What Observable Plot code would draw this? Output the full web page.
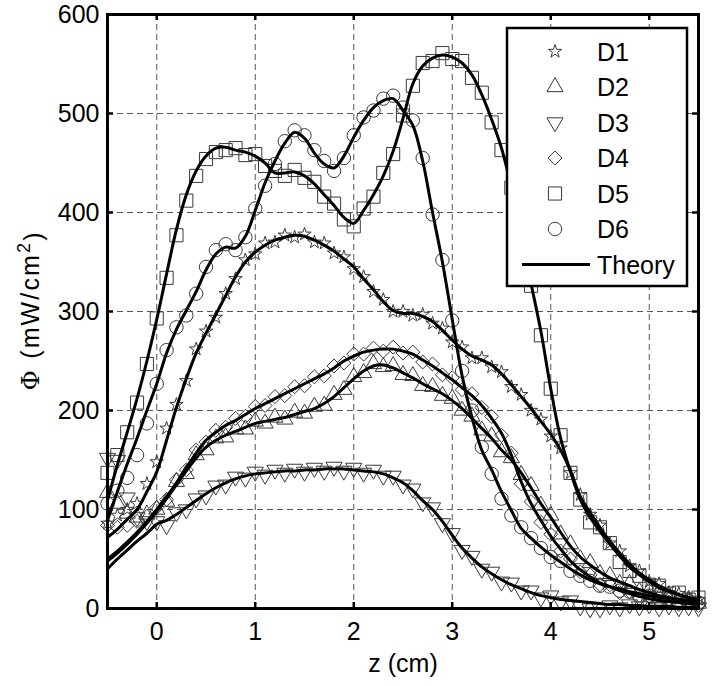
<!DOCTYPE html>
<html>
<head>
<meta charset="utf-8">
<script src="https://cdn.jsdelivr.net/npm/d3@7"></script>
<script src="https://cdn.jsdelivr.net/npm/@observablehq/plot@0.6"></script>
<style>
  html, body { margin: 0; padding: 0; background: #fff; }
  #wrap { position: relative; width: 714px; height: 686px; font-family: "Liberation Sans", Arial, sans-serif; }
  #legend { position: absolute; left: 0; top: 0; overflow: visible; }
</style>
</head>
<body>
<div id="wrap"></div>
<script>
// ---------------- data ----------------
const z = [-0.5,-0.4,-0.3,-0.2,-0.1,0.0,0.1,0.2,0.3,0.4,
  0.5,0.6,0.7,0.8,0.9,1.0,1.1,1.2,1.3,1.4,
  1.5,1.6,1.7,1.8,1.9,2.0,2.1,2.2,2.3,2.4,
  2.5,2.6,2.7,2.8,2.9,3.0,3.1,3.2,3.3,3.4,
  3.5,3.6,3.7,3.8,3.9,4.0,4.1,4.2,4.3,4.4,
  4.5,4.6,4.7,4.8,4.9,5.0,5.1,5.2,5.3,5.4,5.5];

const seriesNames = ["D1","D2","D3","D4","D5","D6"];
const theoryName = "Theory";

// theory curves (mW/cm^2)
const d1Theory = [72,80,90,100,118,138,170,203,232,258,
  278,297,316,335,350,360,367,372,375,377,
  376,372,367,361,353,345,333,322,310,301,
  298,298,295,290,281,271,262,255,251,246,
  237,226,214,202,189,176,160,139,113,97,
  82,68,56,45,36,29,23,18,14,11,8];
const d2Theory = [48,56,65,75,86,98,111,125,139,152,
  163,170,175,179,183,187,189,191,193,196,
  199,202,207,214,223,232,240,245,246,243,
  238,233,227,222,217,210,202,192,182,172,
  160,150,137,122,106,92,77,63,52,44,
  37,31,27,23,19,16,13,11,9,7,6];
const d3Theory = [40,50,59,68,76,85,89,95,102,109,
  116,122,127,131,134,136,137,138,139,139,
  140,140,141,141,141,140,139,138,136,132,
  127,119,109,100,88,74,61,51,42,35,
  29,24,20,16,13,11,9,8,7,6,
  5,4,4,3,3,2,2,2,1,1,1];
const d4Theory = [50,58,67,77,88,100,113,127,142,157,
  170,178,185,190,196,202,207,212,217,222,
  227,232,237,243,250,255,259,261,262,262,
  260,257,251,245,238,231,223,215,205,192,
  177,155,128,106,89,73,60,48,39,32,
  26,22,18,15,12,10,8,7,6,5,4];
const d5Theory = [109,145,178,212,250,292,338,383,418,442,
  457,465,466,463,461,457,450,440,440,441,
  437,429,418,407,395,389,402,418,437,462,
  495,530,548,556,559,557,551,539,519,494,
  465,425,375,328,280,222,172,138,110,92,
  78,65,53,42,34,27,21,17,14,11,9];
const d6Theory = [89,118,146,172,200,227,258,282,301,320,
  342,358,365,364,376,402,430,452,470,481,
  475,460,449,445,457,476,493,506,513,515,
  503,488,452,400,350,292,235,193,160,140,
  118,99,81,71,62,54,47,40,34,29,
  25,22,20,17,15,13,11,10,9,8,7];

// measured points
const d1Meas = [86,94,100,106,126,148,182,206,230,262,
  280,294,318,333,352,358,369,370,377,375,
  378,370,369,359,355,343,335,320,312,300,
  300,296,297,288,283,269,264,253,253,244,
  239,224,216,200,191,174,162,137,115,95,
  84,66,58,43,38,27,25,16,15,10,9];
const d2Meas = [117,106,96,92,95,100,108,128,136,155,
  160,172,173,181,181,189,187,193,191,198,
  197,204,205,216,221,234,238,247,244,245,
  236,235,225,224,215,212,200,194,180,174,
  158,152,135,124,104,94,75,65,50,46,
  35,33,25,25,17,18,11,13,7,9,5];
const d3Meas = [152,150,112,92,88,88,84,97,100,111,
  114,124,125,133,132,138,135,140,137,141,
  138,142,139,143,139,142,137,140,134,134,
  125,121,107,102,86,76,59,53,40,37,
  27,26,18,18,11,13,7,8,2,0,
  0,3,1,4,2,4,1,3,1,2,1];
const d4Meas = [84,82,84,88,93,102,110,130,140,160,
  168,180,183,192,194,204,205,214,215,224,
  225,234,235,245,248,257,257,263,260,264,
  258,259,249,247,236,233,221,217,203,194,
  175,157,126,108,87,75,58,50,37,34,
  24,24,16,17,10,12,6,9,4,7,3];
const d5Meas = [137,155,178,208,247,293,334,377,412,437,
  454,461,463,465,458,459,447,442,437,443,
  435,431,416,409,393,386,404,416,440,459,
  498,528,551,553,561,555,553,536,521,491,
  463,425,372,326,276,222,175,137,110,87,
  82,66,47,38,33,24,23,15,16,9,11];
const d6Meas = [106,119,132,155,187,227,261,284,296,318,
  345,362,368,362,375,404,427,449,472,483,
  478,463,452,442,455,478,496,503,515,518,
  506,493,455,398,352,291,240,200,163,136,
  111,94,82,71,61,52,48,38,33,28,
  23,22,18,17,13,13,10,10,7,8,6];

const xTicks = [0,1,2,3,4,5];
const yTicks = [0,100,200,300,400,500,600];
const xLabel = "z (cm)";
const yLabelParts = ["\u03A6", " (mW/cm", "2", ")"];

// ---------------- build ----------------
const theorySets = [d1Theory,d2Theory,d3Theory,d4Theory,d5Theory,d6Theory];
const measSets = [d1Meas,d2Meas,d3Meas,d4Meas,d5Meas,d6Meas];

const triangleDown = {
  draw(ctx, size) {
    const y = Math.sqrt(size / (Math.sqrt(3) * 3));
    ctx.moveTo(0, y * 2);
    ctx.lineTo(-Math.sqrt(3) * y, -y);
    ctx.lineTo(Math.sqrt(3) * y, -y);
    ctx.closePath();
  }
};
const symbolDefs = [
  {symbol: "star", r: 4.2},
  {symbol: "triangle", r: 6},
  {symbol: triangleDown, r: 6},
  {symbol: "diamond2", r: 6.3},
  {symbol: "square", r: 7.4},
  {symbol: "circle", r: 6.7}
];

const theoryRows = [];
theorySets.forEach((arr, s) => arr.forEach((v, i) => theoryRows.push({set: seriesNames[s], z: z[i], phi: v})));
const measRows = measSets.map((arr, s) => arr.map((v, i) => ({set: seriesNames[s], z: z[i], phi: v})));

const W = 714, H = 686, mL = 107, mR = 16, mT = 14, mB = 78;
const pw = W - mL - mR, ph = H - mT - mB;
const markerStroke = "#3a3a3a";
const FS = 25;

const chart = Plot.plot({
  width: W, height: H,
  marginLeft: mL, marginRight: mR, marginTop: mT, marginBottom: mB,
  style: {fontFamily: "'Liberation Sans', Arial, sans-serif", fontSize: FS + "px", color: "black", background: "white", overflow: "visible"},
  x: {domain: [-0.5, 5.5], label: null},
  y: {domain: [0, 600], label: null},
  marks: [
    Plot.gridX(xTicks, {stroke: "#555", strokeOpacity: 1, strokeWidth: 1, strokeDasharray: "6,4"}),
    Plot.gridY(yTicks.slice(1, -1), {stroke: "#555", strokeOpacity: 1, strokeWidth: 1, strokeDasharray: "6,4"}),
    ...measRows.map((rows, s) => Plot.dot(rows, {
      x: "z", y: "phi", symbol: symbolDefs[s].symbol, r: symbolDefs[s].r,
      stroke: markerStroke, strokeWidth: 1, fill: "none"
    })),
    Plot.line(theoryRows, {x: "z", y: "phi", z: "set", stroke: "black", strokeWidth: 3, curve: "catmull-rom"}),
    Plot.tickX(xTicks, {x: d => d, insetTop: ph - 6, stroke: "black", strokeWidth: 2.5}),
    Plot.tickX(xTicks, {x: d => d, insetBottom: ph - 6, stroke: "black", strokeWidth: 2.5}),
    Plot.tickY(yTicks, {y: d => d, insetRight: pw - 6, stroke: "black", strokeWidth: 2.5}),
    Plot.tickY(yTicks, {y: d => d, insetLeft: pw - 6, stroke: "black", strokeWidth: 2.5}),
    Plot.axisX({ticks: xTicks, tickFormat: d => String(d), tickSize: 0, tickPadding: 14, fontSize: FS, label: null}),
    Plot.axisY({ticks: yTicks, tickFormat: d => String(d), tickSize: 0, tickPadding: 8, fontSize: FS, label: null}),
    Plot.frame({stroke: "black", strokeWidth: 3}),
    Plot.text([xLabel], {frameAnchor: "bottom", dy: 46, lineAnchor: "top", text: d => d, fontSize: FS}),
    Plot.text([yLabelParts.join("")], {frameAnchor: "left", dx: -77, rotate: -90, text: d => d, fontSize: FS, textAnchor: "middle", lineAnchor: "middle"})
  ]
});

const wrap = document.getElementById("wrap");
wrap.appendChild(chart);

// rich y label (serif Phi, superscript 2)
const yText = d3.select(chart).selectAll("text").filter(function() { return this.textContent === yLabelParts.join(""); });
yText.each(function() {
  const t = d3.select(this);
  t.text(null);
  t.append("tspan").style("font-family", "'DejaVu Serif', 'Liberation Serif', serif").text(yLabelParts[0]);
  t.append("tspan").text(yLabelParts[1]);
  t.append("tspan").attr("dy", "-0.45em").attr("font-size", "0.72em").text(yLabelParts[2]);
  t.append("tspan").attr("dy", "0.45em").text(yLabelParts[3]);
  t.attr("textLength", 158).attr("lengthAdjust", "spacing");
});

// ---------------- legend ----------------
const lg = d3.select(wrap).append("svg")
  .attr("id", "legend").attr("width", W).attr("height", H)
  .style("font-family", "'Liberation Sans', Arial, sans-serif");
const box = {x: 507, y: 28, w: 180, h: 258};
lg.append("rect").attr("x", box.x).attr("y", box.y).attr("width", box.w).attr("height", box.h)
  .attr("fill", "white").attr("stroke", "black").attr("stroke-width", 2.5);
const rowY = i => box.y + 23.5 + 35.5 * i;
const symX = box.x + 48;
const txtX = box.x + 90;
seriesNames.forEach((name, i) => {
  const sd = symbolDefs[i];
  const sym = typeof sd.symbol === "string" ? {star: d3.symbolStar, triangle: d3.symbolTriangle, diamond2: d3.symbolDiamond2, square: d3.symbolSquare, circle: d3.symbolCircle}[sd.symbol] : sd.symbol;
  lg.append("path")
    .attr("d", d3.symbol(sym, Math.PI * sd.r * sd.r)())
    .attr("transform", `translate(${symX},${rowY(i)})`)
    .attr("fill", "none").attr("stroke", markerStroke).attr("stroke-width", 1);
  lg.append("text").attr("x", txtX).attr("y", rowY(i)).attr("dy", "0.36em")
    .attr("font-size", FS).text(name);
});
const ti = seriesNames.length;
lg.append("line").attr("x1", box.x + 15).attr("x2", box.x + 83).attr("y1", rowY(ti)).attr("y2", rowY(ti))
  .attr("stroke", "black").attr("stroke-width", 3);
lg.append("text").attr("x", txtX).attr("y", rowY(ti)).attr("dy", "0.36em").attr("font-size", FS).text(theoryName);
</script>
</body>
</html>
